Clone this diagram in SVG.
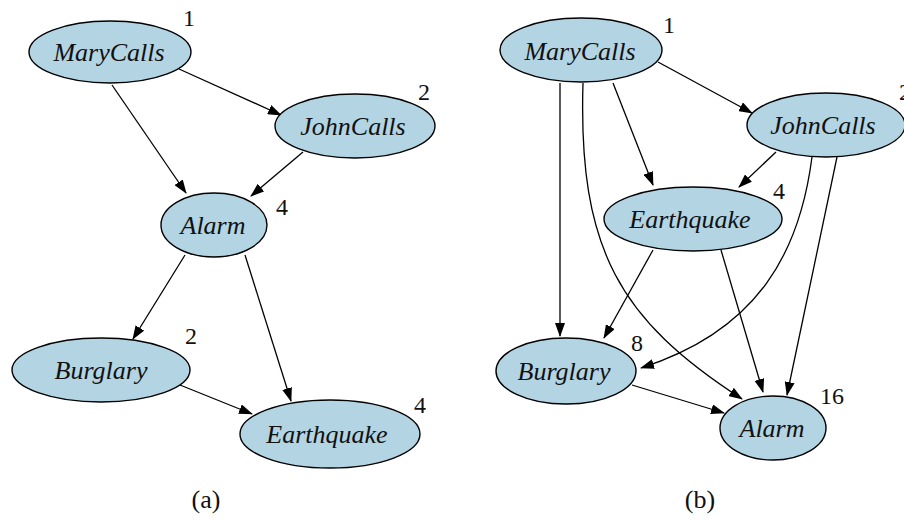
<svg xmlns="http://www.w3.org/2000/svg" width="904" height="521" viewBox="0 0 904 521">
<style>
.node ellipse{fill:#b3d4e3;stroke:#000;stroke-width:1.4}
text{font-family:'Liberation Serif','DejaVu Serif',serif}
.lbl{font-style:italic;font-size:26px;fill:#111;text-anchor:middle}
.num{font-size:24px;fill:#111}
.cap{font-size:26px;fill:#111;text-anchor:middle}
.edges path{fill:none;stroke:#000;stroke-width:1.3;marker-end:url(#arr)}
</style>
<defs>
<marker id="arr" markerUnits="userSpaceOnUse" markerWidth="14" markerHeight="10" viewBox="0 0 14 10" refX="13" refY="5" orient="auto">
<path d="M0,0 L14,5 L0,10 z" fill="#000"/>
</marker>
</defs>
<rect width="904" height="521" fill="#fff"/>

<g class="edges" id="edges-a">
<path d="M179,69 L281,115"/>
<path d="M112,85 L186,193"/>
<path d="M303,152 L251,196"/>
<path d="M185,255 L133,339"/>
<path d="M245,255 L291,401"/>
<path d="M180,385 L252,414"/>
</g>

<g class="node" id="a-marycalls"><ellipse cx="110" cy="52" rx="81" ry="31"/><text class="lbl" x="109" y="61">MaryCalls</text><text class="num" x="183" y="26">1</text></g>
<g class="node" id="a-johncalls"><ellipse cx="355" cy="126" rx="80" ry="32"/><text class="lbl" x="353" y="135">JohnCalls</text><text class="num" x="418" y="100">2</text></g>
<g class="node" id="a-alarm"><ellipse cx="214" cy="225" rx="53" ry="32"/><text class="lbl" x="213" y="234">Alarm</text><text class="num" x="276" y="215">4</text></g>
<g class="node" id="a-burglary"><ellipse cx="101" cy="370" rx="89" ry="32"/><text class="lbl" x="101" y="379">Burglary</text><text class="num" x="185" y="344">2</text></g>
<g class="node" id="a-earthquake"><ellipse cx="330" cy="434" rx="90" ry="34"/><text class="lbl" x="327" y="443">Earthquake</text><text class="num" x="414" y="413">4</text></g>
<text class="cap" x="206" y="508">(a)</text>

<g class="edges" id="edges-b">
<path d="M658,62 L752,113"/>
<path d="M613,83 L653,185"/>
<path d="M560,83 L560,336"/>
<path d="M583,83 C578,250 620,320 742,399"/>
<path d="M776,152 L739,187"/>
<path d="M812,157 C800,250 760,330 641,368"/>
<path d="M837,157 L787,395"/>
<path d="M653,250 L604,338"/>
<path d="M721,250 L763,392"/>
<path d="M632,385 L724,413"/>
</g>

<g class="node" id="b-marycalls"><ellipse cx="581" cy="50" rx="81" ry="32"/><text class="lbl" x="580" y="60">MaryCalls</text><text class="num" x="663" y="33">1</text></g>
<g class="node" id="b-johncalls"><ellipse cx="826" cy="125" rx="79" ry="32"/><text class="lbl" x="823" y="134">JohnCalls</text><text class="num" x="899" y="100">2</text></g>
<g class="node" id="b-earthquake"><ellipse cx="693" cy="219" rx="89" ry="32"/><text class="lbl" x="690" y="228">Earthquake</text><text class="num" x="773" y="199">4</text></g>
<g class="node" id="b-burglary"><ellipse cx="566" cy="371" rx="70" ry="33"/><text class="lbl" x="564" y="380">Burglary</text><text class="num" x="631" y="351">8</text></g>
<g class="node" id="b-alarm"><ellipse cx="773" cy="428" rx="53" ry="32"/><text class="lbl" x="772" y="437">Alarm</text><text class="num" x="820" y="404">16</text></g>
<text class="cap" x="700" y="508">(b)</text>
</svg>
